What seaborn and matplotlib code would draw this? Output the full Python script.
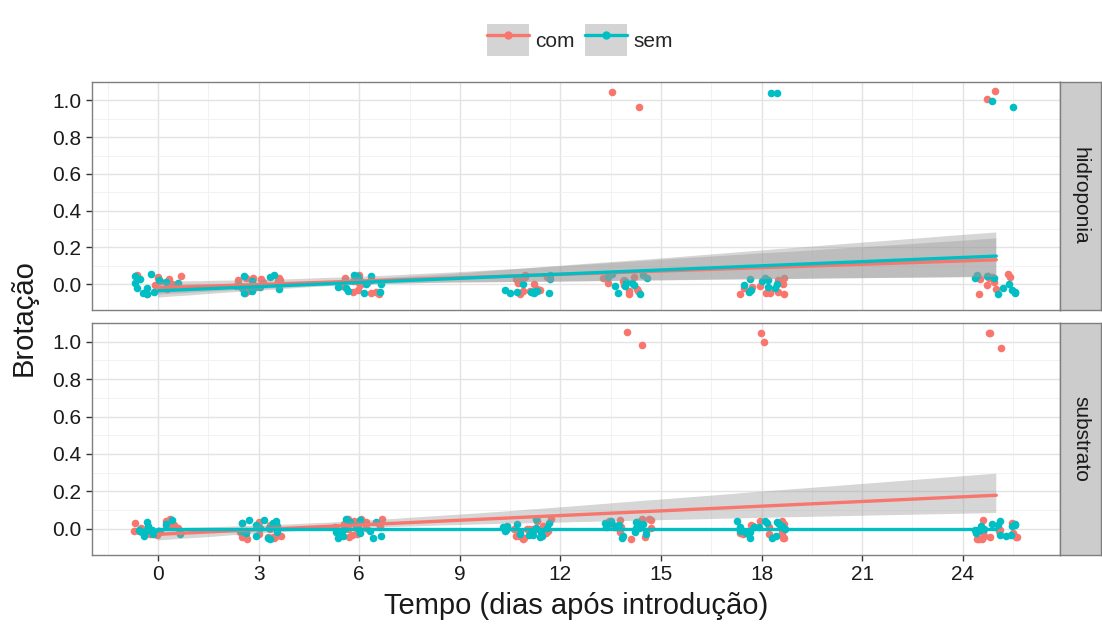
import numpy as np
import pandas as pd
import matplotlib
matplotlib.use('Agg')
import matplotlib.pyplot as plt
import seaborn as sns
from matplotlib.patches import Rectangle
from matplotlib.lines import Line2D
from matplotlib.collections import PolyCollection, PathCollection

# data: sprouting (0/1) per plant, by day, treatment and system
tempos = [0, 3, 6, 11, 14, 18, 25]
sistemas = ['hidroponia', 'substrato']
tratamentos = ['com', 'sem']
n_por_celula = {'hidroponia': 12, 'substrato': 16}
# number of sprouted plants (value 1) per day
brotadas = {
    ('hidroponia', 'com'): [0, 0, 0, 0, 2, 0, 2],
    ('hidroponia', 'sem'): [0, 0, 0, 0, 0, 2, 2],
    ('substrato', 'com'): [0, 0, 0, 0, 2, 2, 3],
    ('substrato', 'sem'): [0, 0, 0, 0, 0, 0, 0],
}
cores = {'com': '#F8766D', 'sem': '#00BFC4'}

rows = []
for s in sistemas:
    for t in tratamentos:
        for dia, k in zip(tempos, brotadas[(s, t)]):
            n = n_por_celula[s]
            for i in range(n):
                rows.append({'sistema': s, 'trat': t, 'tempo': dia,
                             'brotacao': 1 if i < k else 0})
df = pd.DataFrame(rows)

sns.set_theme(style='white')
plt.rcParams['font.family'] = ['Liberation Sans', 'DejaVu Sans']

fig = plt.figure(figsize=(11.02, 6.31), dpi=100)
L, R = 92 / 1102, 1060 / 1102
panels = [(1 - 310 / 631, 228 / 631), (1 - 555 / 631, 232 / 631)]

np.random.seed(7)
for (bottom, height), s in zip(panels, sistemas):
    ax = fig.add_axes([L, bottom, R - L, height])
    for t in tratamentos:
        sub = df[(df.sistema == s) & (df.trat == t)]
        sns.regplot(data=sub, x='tempo', y='brotacao', ax=ax, color=cores[t],
                    x_jitter=0.72, y_jitter=0.055, seed=3, ci=90,
                    scatter_kws=dict(s=30, alpha=1, linewidths=0, zorder=2),
                    line_kws=dict(lw=2.4, zorder=4))
    for c in ax.collections:
        if isinstance(c, PathCollection):
            c.set_zorder(2)
        elif isinstance(c, PolyCollection):
            c.set_facecolor('#999999')
            c.set_alpha(0.4)
            c.set_edgecolor('none')
            c.set_zorder(3)
    ax.set_xlim(-1.97, 26.9)
    ax.set_ylim(-0.14, 1.10)
    ax.set_xticks([0, 3, 6, 9, 12, 15, 18, 21, 24])
    ax.set_xticks(np.arange(-1.5, 27, 3), minor=True)
    ax.set_yticks([0, 0.2, 0.4, 0.6, 0.8, 1.0])
    ax.set_yticks([0.1, 0.3, 0.5, 0.7, 0.9], minor=True)
    ax.set_yticklabels(['0.0', '0.2', '0.4', '0.6', '0.8', '1.0'])
    ax.grid(which='major', color='#E3E3E3', lw=1.0, zorder=0)
    ax.grid(which='minor', color='#F0F0F0', lw=0.6, zorder=0)
    ax.set_axisbelow(True)
    for sp in ax.spines.values():
        sp.set_color('#7F7F7F')
        sp.set_linewidth(1.0)
    ax.tick_params(axis='both', which='major', direction='out', length=4.5,
                   width=1, color='#333333', labelsize=15, labelcolor='#1A1A1A',
                   bottom=True, left=True, pad=3)
    ax.tick_params(which='minor', length=0)
    ax.set_xlabel('')
    ax.set_ylabel('')
    if s == 'hidroponia':
        ax.tick_params(labelbottom=False, bottom=False)

    # facet strip on the right
    sax = fig.add_axes([R, bottom, 41 / 1102, height])
    sax.set_facecolor('#CCCCCC')
    sax.set_xticks([])
    sax.set_yticks([])
    for sp in sax.spines.values():
        sp.set_color('#7F7F7F')
        sp.set_linewidth(1.0)
    sax.text(0.5, 0.5, s, rotation=270, ha='center', va='center',
             fontsize=15, color='#1A1A1A', transform=sax.transAxes)

fig.text(L + (R - L) / 2, 1 - 606 / 631, 'Tempo (dias após introdução)',
         ha='center', va='center', fontsize=21, color='#1A1A1A')
fig.text(24 / 1102, 1 - 318 / 631, 'Brotação', rotation=90,
         ha='center', va='center', fontsize=21, color='#1A1A1A')

handles = []
for t in tratamentos:
    bg = Rectangle((0, 0), 1, 1, facecolor='#D4D4D4', edgecolor='none')
    ln = Line2D([], [], color=cores[t], lw=2.4, marker='o', ms=5)
    handles.append((bg, ln))
fig.legend(handles, tratamentos, loc='center', bbox_to_anchor=(580 / 1102, 1 - 40 / 631),
           ncol=2, frameon=False, fontsize=15, handlelength=2.0, handleheight=2.0,
           handletextpad=0.3, columnspacing=0.5, borderpad=0.2)

fig.savefig('out.png', dpi=100)
